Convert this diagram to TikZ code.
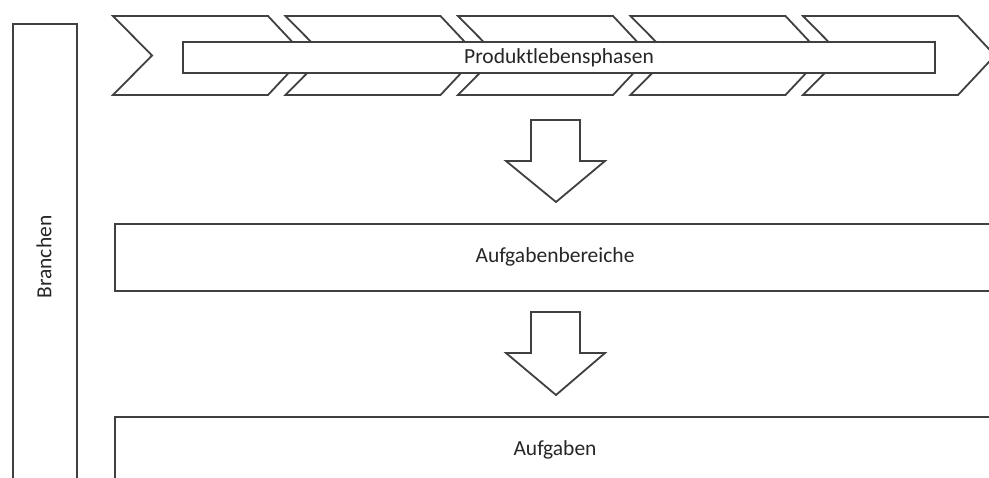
\documentclass[tikz,border=0pt]{standalone}
\usepackage{fontspec}
\setmainfont{Carlito}
\begin{document}
\begin{tikzpicture}[x=1pt,y=-1pt,
  outline/.style={draw=black!75,line width=1.8pt,fill=white,line join=miter},
  label/.style={font=\fontsize{21.5}{26}\selectfont,text=black!85},
  band/.style={outline,minimum width=752pt,minimum height=31pt,inner sep=0pt},
  panel/.style={outline,minimum height=67pt,inner sep=0pt,anchor=north west}]
\useasboundingbox (0,0) rectangle (989,478);
\clip (0,0) rectangle (989,478);

% side column
\node[outline,anchor=north west,minimum width=64pt,minimum height=480pt,inner sep=0pt]
  (branchen) at (12,23) {};
\node[label,rotate=90] (branchenText) at (44,257) {Branchen};

% chevrons of the product life phases
\foreach \i in {0,...,4}{
  \pgfmathsetmacro{\L}{113+172.5*\i}
  \pgfmathsetmacro{\R}{\L+155}
  \draw[outline] (\L,16) -- (\R,16) -- (\R+37,55.5) -- (\R,95) -- (\L,95) -- (\L+39,55.5) -- cycle;
}
\node[band,label] (phasen) at (559,57.5) {Produktlebensphasen};

% task areas and tasks
\node[panel,minimum width=900pt] (bereiche) at (114,223) {};
\node[label] (bereicheText) at (555,257) {Aufgabenbereiche};
\node[panel,minimum width=900pt,minimum height=80pt] (aufgaben) at (114,416) {};
\node[label] (aufgabenText) at (555,450) {Aufgaben};

% block arrows
\draw[outline] (531,120) -- (580,120) -- (580,161) -- (605,161) -- (556,202)
  -- (506,161) -- (531,161) -- cycle;
\draw[outline] (531,312) -- (580,312) -- (580,353) -- (605,353) -- (556,395)
  -- (506,353) -- (531,353) -- cycle;
\end{tikzpicture}
\end{document}
